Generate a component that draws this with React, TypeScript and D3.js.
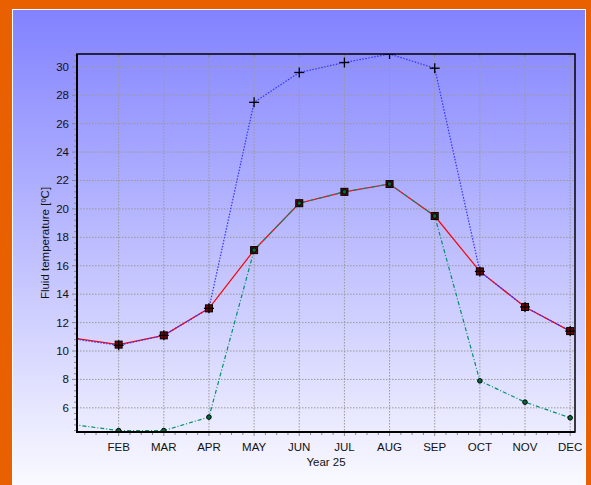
import React from "react";
import * as d3 from "d3";

const months = ["JAN", "FEB", "MAR", "APR", "MAY", "JUN", "JUL", "AUG", "SEP", "OCT", "NOV", "DEC"];
const maxTemp = [10.85, 10.4, 11.1, 13.0, 27.5, 29.6, 30.3, 30.9, 29.9, 15.6, 13.1, 11.4];
const avgTemp = [10.9, 10.45, 11.1, 13.0, 17.1, 20.4, 21.2, 21.75, 19.5, 15.6, 13.1, 11.4];
const minTemp = [4.82, 4.4, 4.4, 5.35, 17.1, 20.4, 21.2, 21.75, 19.5, 7.9, 6.4, 5.3];
const yTicks = [6, 8, 10, 12, 14, 16, 18, 20, 22, 24, 26, 28, 30];

const W = 591;
const H = 485;
const M = { left: 77, right: 575, top: 54, bottom: 432 };

export default function App() {
  const x = d3.scaleLinear().domain([1.0775, 12.107]).range([M.left, M.right]);
  const y = d3.scaleLinear().domain([4.3, 30.9]).range([M.bottom, M.top]);
  const idx = months.map((_, i) => i + 1);

  const line = d3
    .line<number>()
    .x((_, i) => x(i + 1))
    .y((d) => y(d));

  const xMinor: number[] = [];
  for (let m = 1; m <= 12; m++) {
    for (let k = 1; k < 4; k++) {
      const v = m + k / 4;
      if (v <= 12.107) xMinor.push(v);
    }
  }
  const yMinor: number[] = [];
  for (let v = 4.4; v <= 30.9; v += 0.4) {
    const r = Math.round(v * 10) / 10;
    if (Math.abs(r / 2 - Math.round(r / 2)) > 0.01) yMinor.push(r);
  }

  const font = "'Liberation Sans', Arial, sans-serif";
  const cx = (M.left + M.right) / 2;
  const cy = (M.top + M.bottom) / 2;

  return (
    <svg
      width={W}
      height={H}
      style={{ position: "absolute", left: 0, top: 0 }}
      fontFamily={font}
    >
      <defs>
        <linearGradient id="bg" x1="0" y1="0" x2="0" y2="1">
          <stop offset="0" stopColor="#8282FF" />
          <stop offset="1" stopColor="#FCFCFF" />
        </linearGradient>
        <clipPath id="clip">
          <rect x={M.left} y={M.top} width={M.right - M.left} height={M.bottom - M.top} />
        </clipPath>
      </defs>
      <rect x={0} y={0} width={W} height={H} fill="#E86000" />
      <rect x={12.5} y={9.5} width={573} height={H} fill="url(#bg)" stroke="#FFFFFF" strokeWidth={1} />

      {/* grid */}
      <g stroke="#999999" strokeWidth={1} strokeDasharray="1.5,1.5">
        {idx.map((m) =>
          x(m) > M.left && x(m) < M.right ? (
            <line key={"gx" + m} x1={x(m)} x2={x(m)} y1={M.top} y2={M.bottom} />
          ) : null
        )}
        {yTicks.map((v) => (
          <line key={"gy" + v} x1={M.left} x2={M.right} y1={y(v)} y2={y(v)} />
        ))}
      </g>

      {/* ticks */}
      <g stroke="#888888" strokeWidth={1}>
        {yTicks.map((v) => (
          <line key={"yt" + v} x1={M.left - 5} x2={M.left} y1={y(v)} y2={y(v)} />
        ))}
        {yMinor.map((v) => (
          <line key={"ym" + v} x1={M.left - 3} x2={M.left} y1={y(v)} y2={y(v)} />
        ))}
        {idx.map((m) =>
          x(m) >= M.left && x(m) <= M.right ? (
            <g key={"xt" + m}>
              <line x1={x(m)} x2={x(m)} y1={M.bottom} y2={M.bottom + 4} />
              <line x1={x(m)} x2={x(m)} y1={M.top} y2={M.top + 3} />
            </g>
          ) : null
        )}
        {xMinor.map((v) => (
          <line key={"xm" + v} x1={x(v)} x2={x(v)} y1={M.bottom} y2={M.bottom + 3} />
        ))}
      </g>

      {/* series */}
      <g clipPath="url(#clip)">
        <path d={line(avgTemp) || ""} fill="none" stroke="#FF0000" strokeWidth={1.2} />
        <path d={line(maxTemp) || ""} fill="none" stroke="#3434FF" strokeWidth={1.2} strokeDasharray="1.5,1.5" />
        <path d={line(minTemp) || ""} fill="none" stroke="#00906A" strokeWidth={1.2} strokeDasharray="4,2,1,2" />
        {avgTemp.map((v, i) => (
          <rect
            key={"a" + i}
            x={x(i + 1) - 3.5}
            y={y(v) - 3.5}
            width={7}
            height={7}
            fill="#7A0000"
            stroke="#000000"
            strokeWidth={1}
          />
        ))}
        {maxTemp.map((v, i) => (
          <g key={"p" + i} stroke="#000000" strokeWidth={1.3}>
            <line x1={x(i + 1) - 5} x2={x(i + 1) + 5} y1={y(v)} y2={y(v)} />
            <line x1={x(i + 1)} x2={x(i + 1)} y1={y(v) - 5} y2={y(v) + 5} />
          </g>
        ))}
        {minTemp.map((v, i) => (
          <circle key={"c" + i} cx={x(i + 1)} cy={y(v)} r={2.3} fill="#006A3A" stroke="#000000" strokeWidth={1} />
        ))}
      </g>

      {/* frame */}
      <rect
        x={M.left}
        y={M.top}
        width={M.right - M.left}
        height={M.bottom - M.top}
        fill="none"
        stroke="#000000"
        strokeWidth={1.5}
      />
      <line x1={M.left} x2={M.left} y1={M.top} y2={M.bottom + 1} stroke="#000" strokeWidth={2} />
      <line x1={M.left - 1} x2={M.right} y1={M.bottom} y2={M.bottom} stroke="#000" strokeWidth={2} />

      {/* labels */}
      <g fontSize={11.5} fill="#111111">
        {yTicks.map((v) => (
          <text key={"yl" + v} x={M.left - 8} y={y(v)} dy="0.35em" textAnchor="end">
            {v}
          </text>
        ))}
        {idx.map((m) =>
          x(m) >= M.left && x(m) <= M.right + 1 ? (
            <text key={"xl" + m} x={x(m)} y={M.bottom + 19} textAnchor="middle">
              {months[m - 1]}
            </text>
          ) : null
        )}
        <text x={cx} y={M.bottom + 34} textAnchor="middle">
          Year 25
        </text>
        <text transform={`translate(49,${cy}) rotate(-90)`} textAnchor="middle">
          Fluid temperature [ºC]
        </text>
      </g>
    </svg>
  );
}
